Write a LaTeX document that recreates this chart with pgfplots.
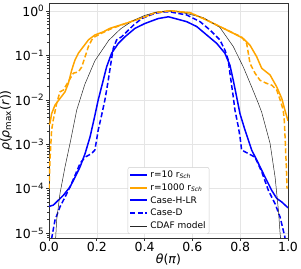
\documentclass[border=0pt]{standalone}
\usepackage{fontspec}
\setmainfont{DejaVu Sans}
\usepackage{pgfplots}
\pgfplotsset{compat=1.18}
\definecolor{mplorange}{RGB}{255,165,0}
\definecolor{mplblue}{RGB}{0,0,255}
\begin{document}
\begin{tikzpicture}
\begin{axis}[
 scale only axis, width=239pt, height=235pt,
 xmin=0, xmax=1, ymin=-5.11, ymax=0.18,
 xtick={0,0.2,0.4,0.6,0.8,1},
 xticklabels={0.0,0.2,0.4,0.6,0.8,1.0},
 ytick={-5,-4,-3,-2,-1,0},
 yticklabels={10\textsuperscript{−5},10\textsuperscript{−4},10\textsuperscript{−3},10\textsuperscript{−2},10\textsuperscript{−1},10\textsuperscript{0}},
 minor ytick={-5.097,-5.046,
 -4.699,-4.523,-4.398,-4.301,-4.222,-4.155,-4.097,-4.046,
 -3.699,-3.523,-3.398,-3.301,-3.222,-3.155,-3.097,-3.046,
 -2.699,-2.523,-2.398,-2.301,-2.222,-2.155,-2.097,-2.046,
 -1.699,-1.523,-1.398,-1.301,-1.222,-1.155,-1.097,-1.046,
 -0.699,-0.523,-0.398,-0.301,-0.222,-0.155,-0.097,-0.046},
 tick pos=left, tick align=outside,
 major tick length=3pt, minor tick length=1.8pt,
 grid=major, major grid style={black!10, line width=0.5pt},
 axis line style={black!80, line width=0.8pt},
 tick style={black!80, line width=0.6pt},
 ticklabel style={font=\fontsize{12.5}{14}\selectfont},
 xticklabel style={inner sep=1.5pt},
 yticklabel style={inner sep=1.5pt},
 xlabel={\textit{θ}(\textit{π})},
 ylabel={\textit{ρ}(\textit{ρ}\textsubscript{max}(\textit{r}))},
 label style={font=\fontsize{12.5}{14}\selectfont},
 xlabel style={yshift=3pt},
 ylabel style={yshift=-2pt},
 legend style={at={(0.5,0.017)}, anchor=south, font=\fontsize{9}{10}\selectfont,
   draw=black!20, rounded corners=2pt, inner sep=1.5pt, row sep=0.6pt},
 legend cell align=left,
 legend image code/.code={\draw[#1, line width=2pt] (0pt,0pt) -- (17pt,0pt);},
]
% r=10, Case-H-LR
\addplot[mplblue, line width=1.5pt] coordinates {
(0,-4.40)(0.018,-4.37)(0.039,-4.26)(0.060,-4.15)(0.088,-3.96)(0.109,-3.74)(0.130,-3.51)
(0.151,-3.21)(0.172,-2.83)(0.190,-2.40)(0.206,-2.0)(0.227,-1.56)(0.241,-1.26)(0.262,-0.95)
(0.29,-0.73)(0.318,-0.58)(0.36,-0.39)(0.402,-0.28)(0.457,-0.17)(0.5,-0.13)(0.576,-0.24)
(0.618,-0.35)(0.66,-0.54)(0.702,-0.73)(0.736,-0.95)(0.757,-1.22)(0.771,-1.56)(0.785,-1.93)
(0.799,-2.31)(0.820,-2.68)(0.848,-3.13)(0.876,-3.43)(0.904,-3.74)(0.932,-4.04)(0.953,-4.22)
(0.974,-4.30)(1.0,-4.43)};
\addlegendentry{r=10 r\textsubscript{\textit{Sch}}}
% r=1000, Case-H-LR
\addplot[mplorange, line width=1.5pt] coordinates {
(0,-2.55)(0.004,-2.53)(0.011,-2.31)(0.025,-2.12)(0.046,-1.97)(0.067,-1.82)(0.081,-1.63)
(0.095,-1.33)(0.109,-1.10)(0.123,-0.95)(0.144,-0.80)(0.165,-0.65)(0.192,-0.54)(0.227,-0.47)
(0.255,-0.39)(0.332,-0.26)(0.402,-0.13)(0.443,-0.04)(0.506,0.005)(0.59,-0.04)(0.646,-0.17)
(0.715,-0.35)(0.771,-0.50)(0.813,-0.62)(0.841,-0.77)(0.869,-1.03)(0.890,-1.29)(0.925,-1.44)
(0.953,-1.71)(0.974,-1.97)(0.987,-2.23)(1.0,-2.47)};
\addlegendentry{r=1000 r\textsubscript{\textit{Sch}}}
\addlegendimage{mplblue}
\addlegendentry{Case-H-LR}
% r=10, Case-D
\addplot[mplblue, line width=1.5pt, dash pattern=on 5pt off 2.5pt] coordinates {
(0.005,-5.3)(0.025,-4.71)(0.046,-4.41)(0.067,-4.19)(0.088,-3.96)(0.109,-3.70)(0.130,-3.43)
(0.151,-3.29)(0.178,-3.21)(0.192,-3.13)(0.206,-2.68)(0.220,-2.35)(0.234,-2.0)(0.248,-1.56)
(0.262,-1.07)(0.269,-0.84)(0.283,-0.65)(0.304,-0.58)(0.325,-0.47)(0.353,-0.32)(0.388,-0.17)
(0.444,-0.05)(0.485,-0.02)(0.506,-0.02)(0.576,-0.09)(0.632,-0.24)(0.674,-0.43)(0.715,-0.65)
(0.736,-0.88)(0.75,-1.10)(0.757,-1.40)(0.771,-1.93)(0.778,-2.23)(0.792,-2.6)(0.799,-2.83)
(0.806,-3.13)(0.834,-3.21)(0.862,-3.29)(0.89,-3.62)(0.918,-4.04)(0.946,-4.34)(0.967,-4.64)
(0.987,-5.09)(0.992,-5.3)};
\addlegendentry{Case-D}
% CDAF model
\addplot[black!85, line width=0.5pt, legend image code/.code={\draw[black!85, line width=0.7pt] (0pt,0pt) -- (17pt,0pt);}] coordinates {
(0.026,-5.3)(0.032,-4.71)(0.046,-4.11)(0.067,-3.51)(0.088,-2.98)(0.116,-2.23)(0.15,-1.65)
(0.192,-1.12)(0.25,-0.66)(0.30,-0.40)(0.35,-0.22)(0.40,-0.10)(0.45,-0.025)(0.5,0)
(0.55,-0.025)(0.60,-0.09)(0.646,-0.15)(0.715,-0.37)(0.771,-0.80)(0.813,-1.26)(0.848,-1.71)
(0.876,-2.08)(0.89,-2.28)(0.925,-2.98)(0.946,-3.74)(0.96,-4.49)(0.967,-5.01)(0.972,-5.3)};
\addlegendentry{CDAF model}
% r=1000, Case-D
\addplot[mplorange, line width=1.5pt, dash pattern=on 5pt off 2.5pt, forget plot] coordinates {
(0.0,-4.0)(0.004,-3.36)(0.011,-2.68)(0.018,-2.45)(0.032,-2.08)(0.046,-1.82)(0.060,-1.78)
(0.081,-1.59)(0.102,-1.40)(0.123,-1.37)(0.137,-1.26)(0.151,-1.03)(0.165,-0.80)(0.179,-0.65)
(0.192,-0.58)(0.22,-0.50)(0.26,-0.40)(0.332,-0.26)(0.402,-0.13)(0.443,-0.04)(0.506,0.005)
(0.59,-0.04)(0.646,-0.17)(0.715,-0.35)(0.771,-0.50)(0.805,-0.58)(0.827,-0.73)(0.834,-0.95)
(0.841,-1.18)(0.862,-1.40)(0.883,-1.56)(0.911,-1.63)(0.932,-1.67)(0.953,-1.78)(0.967,-2.0)
(0.980,-2.23)(0.985,-2.5)(0.989,-3.0)(0.993,-3.5)(0.996,-4.0)};
\end{axis}
\pgfresetboundingbox
\path ([xshift=-49pt,yshift=-31pt]current axis.south west) rectangle ([xshift=13pt,yshift=3pt]current axis.north east);
\end{tikzpicture}
\end{document}
